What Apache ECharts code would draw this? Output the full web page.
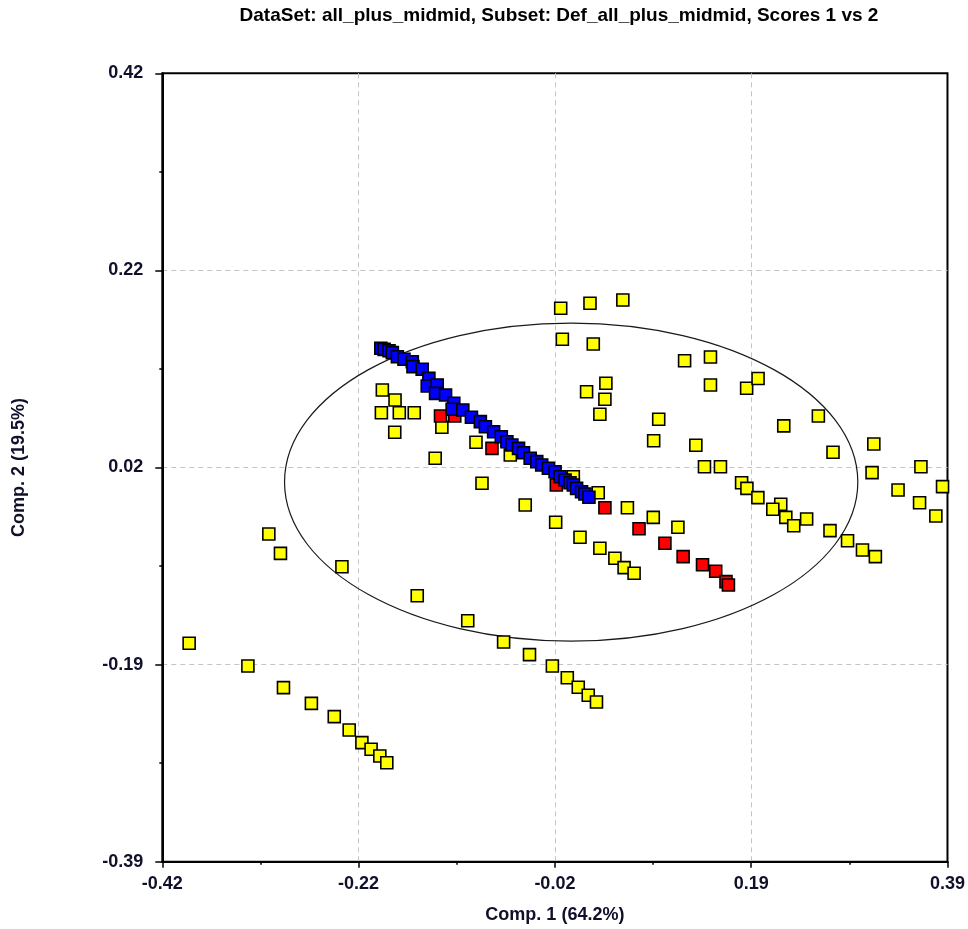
<!DOCTYPE html>
<html>
<head>
<meta charset="utf-8">
<script src="https://cdn.jsdelivr.net/npm/echarts@6/dist/echarts.min.js"></script>
<style>
html,body{margin:0;padding:0;background:#fff;}
#chart{width:968px;height:929px;}
</style>
</head>
<body>
<div id="chart"></div>
<script>
// ---- Axis definitions ----
const X_MIN = -0.42, X_MAX = 0.39, X_STEP = 0.2025;
const Y_MIN = -0.39, Y_MAX = 0.42, Y_STEP = 0.2025;
const X_TICK_LABELS = ['-0.42', '-0.22', '-0.02', '0.19', '0.39'];
const Y_TICK_LABELS = ['-0.39', '-0.19', '0.02', '0.22', '0.42'];

// ---- Confidence ellipse (centre, semi-axes) ----
const ELLIPSE_CENTER = [0.0018, 0.0];
const ELLIPSE_RADII = [0.2957, 0.1634];

// ---- Yellow samples ----
const YELLOW_X = [-0.1930,-0.1799,-0.1940,-0.1755,-0.1601,-0.1802,-0.1316,-0.0964,-0.1385,-0.0902,
  -0.0456,-0.0610,0.0040,-0.0090,0.0212,0.0551,-0.0073,0.0246,0.1188,0.1455,
  0.0376,0.0177,0.0366,0.0314,0.1455,0.1828,0.1946,0.0921,0.0869,0.1304,
  0.1393,0.1558,0.2211,0.1776,0.1831,0.1944,0.2180,0.2098,0.2232,0.2314,
  0.0297,0.0598,0.0865,0.1119,-0.0142,0.0109,0.0314,0.0469,0.0564,0.0667,
  0.2568,0.2719,0.3140,0.3122,0.3626,0.3390,0.3849,0.3612,0.3780,0.2447,
  0.2688,0.2869,0.3023,0.3156,-0.3101,-0.2981,-0.2347,-0.3923,-0.3317,-0.2950,
  -0.2662,-0.2426,-0.2272,-0.2141,-0.2046,-0.1956,-0.1884,-0.1570,-0.1049,-0.0679,
  -0.0412,-0.0176,-0.0022,0.0091,0.0194,0.0279];
const YELLOW_Y = [0.0946,0.0844,0.0713,0.0713,0.0713,0.0512,0.0563,0.0409,0.0245,-0.0012,
  -0.0235,0.0278,0.0055,0.1786,0.1837,0.1871,0.1467,0.1419,0.1247,0.1285,
  0.1015,0.0929,0.0851,0.0697,0.0998,0.0964,0.1064,0.0645,0.0425,0.0378,
  0.0158,0.0158,0.0578,-0.0006,-0.0064,-0.0160,-0.0228,-0.0279,-0.0362,-0.0449,
  -0.0109,-0.0263,-0.0362,-0.0464,-0.0413,-0.0567,-0.0680,-0.0783,-0.0879,-0.0937,
  0.0679,0.0306,0.0391,0.0097,0.0158,-0.0081,-0.0047,-0.0212,-0.0348,-0.0379,
  -0.0499,-0.0602,-0.0698,-0.0766,-0.0533,-0.0732,-0.0869,-0.1656,-0.1889,-0.2112,
  -0.2273,-0.2410,-0.2547,-0.2677,-0.2745,-0.2814,-0.2883,-0.1167,-0.1424,-0.1643,
  -0.1773,-0.1889,-0.2010,-0.2108,-0.2190,-0.2259];

// ---- Red samples ----
const RED_X = [-0.1330,-0.1183,-0.0799,-0.0135,0.0366,0.0718,0.0985,0.1173,0.1373,0.1509,0.1615,0.1640];
const RED_Y = [0.0679,0.0679,0.0347,-0.0030,-0.0263,-0.0479,-0.0629,-0.0766,-0.0849,-0.0916,-0.1023,-0.1057];

// ---- Blue samples ----
const BLUE_X = [-0.1946,-0.1912,-0.1861,-0.1827,-0.1775,-0.1707,-0.1621,-0.1614,-0.1519,-0.1450,
  -0.1467,-0.1364,-0.1381,-0.1278,-0.1193,-0.1210,-0.1100,-0.1011,-0.0919,-0.0867,
  -0.0782,-0.0703,-0.0645,-0.0594,-0.0525,-0.0474,-0.0405,-0.0337,-0.0286,-0.0217,
  -0.0148,-0.0097,-0.0045,0.0006,0.0040,0.0074,0.0125,0.0160,0.0201];
const BLUE_Y = [0.1375,0.1364,0.1350,0.1330,0.1288,0.1262,0.1237,0.1186,0.1159,0.1066,
  0.0987,0.0998,0.0912,0.0895,0.0810,0.0748,0.0741,0.0666,0.0621,0.0569,
  0.0518,0.0466,0.0415,0.0381,0.0347,0.0302,0.0245,0.0210,0.0176,0.0142,
  0.0107,0.0055,0.0022,-0.0006,-0.0030,-0.0064,-0.0099,-0.0122,-0.0156];

const zip = (xs, ys) => xs.map((x, i) => [x, ys[i]]);

const FONT = "'Liberation Sans', Arial, sans-serif";
const LABEL_COLOR = '#10102a';

const chart = echarts.init(document.getElementById('chart'), null, {renderer: 'canvas'});

function squareSeries(name, data, color, z) {
  return {
    name: name,
    type: 'scatter',
    data: data,
    symbol: 'rect',
    symbolSize: 12,
    z: z,
    itemStyle: {color: color, borderColor: '#000', borderWidth: 1.6, opacity: 1},
    emphasis: {disabled: true},
    silent: true,
    animation: false
  };
}

const option = {
  animation: false,
  backgroundColor: '#fff',
  graphic: [{
    type: 'text',
    x: 559,
    y: 6,
    style: {
      text: 'DataSet: all_plus_midmid, Subset: Def_all_plus_midmid, Scores 1 vs 2',
      font: 'bold 19px ' + FONT,
      fill: '#000',
      align: 'center',
      verticalAlign: 'top'
    }
  }],
  grid: {
    left: 162.3, top: 73.3, right: 17.3, bottom: 67.3,
    show: true, borderColor: '#000', borderWidth: 2, backgroundColor: 'transparent',
    containLabel: false
  },
  xAxis: {
    type: 'value',
    min: X_MIN, max: X_MAX, interval: X_STEP,
    name: 'Comp. 1 (64.2%)',
    nameLocation: 'middle',
    nameGap: 44,
    nameTextStyle: {fontFamily: FONT, fontWeight: 'bold', fontSize: 18, color: LABEL_COLOR},
    axisLine: {show: true, onZero: false, lineStyle: {color: '#000', width: 2}},
    axisTick: {show: true, length: 6, lineStyle: {color: '#000', width: 1.5}},
    minorTick: {show: true, splitNumber: 2, length: 3, lineStyle: {color: '#000', width: 1.5}},
    axisLabel: {
      margin: 13,
      fontFamily: FONT, fontWeight: 'bold', fontSize: 18, color: LABEL_COLOR,
      formatter: (v) => X_TICK_LABELS[Math.round((v - X_MIN) / X_STEP)] || ''
    },
    splitLine: {show: true, showMinLine: false, showMaxLine: false,
      lineStyle: {color: '#c4c4c4', width: 1, type: [5, 4]}}
  },
  yAxis: {
    type: 'value',
    min: Y_MIN, max: Y_MAX, interval: Y_STEP,
    name: 'Comp. 2 (19.5%)',
    nameLocation: 'middle',
    nameGap: 134,
    nameRotate: 90,
    nameTextStyle: {fontFamily: FONT, fontWeight: 'bold', fontSize: 18, color: LABEL_COLOR},
    axisLine: {show: true, onZero: false, lineStyle: {color: '#000', width: 2}},
    axisTick: {show: true, length: 7, lineStyle: {color: '#000', width: 1.5}},
    minorTick: {show: true, splitNumber: 2, length: 3, lineStyle: {color: '#000', width: 1.5}},
    axisLabel: {
      margin: 19,
      fontFamily: FONT, fontWeight: 'bold', fontSize: 18, color: LABEL_COLOR,
      formatter: (v) => Y_TICK_LABELS[Math.round((v - Y_MIN) / Y_STEP)] || ''
    },
    splitLine: {show: true, showMinLine: false, showMaxLine: false,
      lineStyle: {color: '#c4c4c4', width: 1, type: [5, 4]}}
  },
  series: [
    {
      type: 'custom',
      silent: true,
      z: 1,
      data: [[ELLIPSE_CENTER[0], ELLIPSE_CENTER[1], ELLIPSE_RADII[0], ELLIPSE_RADII[1]]],
      encode: {x: 0, y: 1},
      renderItem: function (params, api) {
        const c = api.coord([api.value(0), api.value(1)]);
        const e = api.coord([api.value(0) + api.value(2), api.value(1) + api.value(3)]);
        return {
          type: 'ellipse',
          shape: {cx: c[0], cy: c[1], rx: Math.abs(e[0] - c[0]), ry: Math.abs(e[1] - c[1])},
          style: {fill: 'none', stroke: '#1a1a1a', lineWidth: 1.2}
        };
      }
    },
    squareSeries('yellow', zip(YELLOW_X, YELLOW_Y), '#ffff00', 2),
    squareSeries('red', zip(RED_X, RED_Y), '#ff0000', 3),
    squareSeries('blue', zip(BLUE_X, BLUE_Y), '#0000ff', 4)
  ]
};

chart.setOption(option);
</script>
</body>
</html>
